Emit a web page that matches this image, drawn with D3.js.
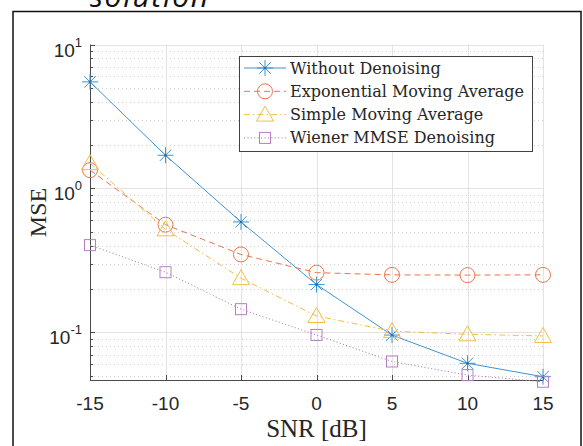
<!DOCTYPE html>
<html lang="en">
<head>
<meta charset="UTF-8"/>
<title>MSE vs SNR</title>
<script src="https://d3js.org/d3.v7.min.js" charset="utf-8"></script>
<style type="text/css">
    body { margin: 0; background: #fff; }
    .tick-label { font-family: "Liberation Sans", Arial, sans-serif; fill: #262626; }
    .serif { font-family: "Liberation Serif", "Times New Roman", serif; fill: #262626; }
    .legend text { font-family: "DejaVu Serif", serif; font-size: 16px; fill: #262626; }
</style>
</head>
<body>
<div id="chart"></div>
<script type="text/javascript">
    // data
    var snr = [-15, -10, -5, 0, 5, 10, 15];
    var xTicks = [-15, -10, -5, 0, 5, 10, 15];
    var yTicks = [0.1, 1, 10];
    var yTickExp = ["-1", "0", "1"];
    var withoutDenoising = [5.5, 1.7, 0.585, 0.215, 0.0958, 0.061, 0.0492];
    var expMovingAvg = [1.34, 0.56, 0.348, 0.26, 0.251, 0.25, 0.251];
    var simpleMovingAvg = [1.5, 0.52, 0.238, 0.13, 0.102, 0.097, 0.0945];
    var wienerMMSE = [0.404, 0.262, 0.145, 0.096, 0.0628, 0.0505, 0.0454];
    var seriesNames = ["Without Denoising", "Exponential Moving Average", "Simple Moving Average", "Wiener MMSE Denoising"];

    var series = [
        {name: seriesNames[0], values: withoutDenoising, color: "#3f93d3", dash: null, marker: "star"},
        {name: seriesNames[1], values: expMovingAvg, color: "#e8764e", dash: "6,4", marker: "circle"},
        {name: seriesNames[2], values: simpleMovingAvg, color: "#f2be45", dash: "6,3,1.5,3", marker: "triangle"},
        {name: seriesNames[3], values: wienerMMSE, color: "#b480c2", dash: "1.2,2.2", marker: "square"}
    ];

    var W = 583, H = 446;
    var svg = d3.select("#chart").append("svg")
        .attr("width", W).attr("height", H);

    // outer frame + clipped title from the slide
    svg.append("rect")
        .attr("x", 13).attr("y", 11.5).attr("width", 568).attr("height", 450)
        .attr("fill", "none").attr("stroke", "#111").attr("stroke-width", 1.5);
    svg.append("text")
        .attr("x", 90).attr("y", 7)
        .attr("font-family", "'Open Sans', sans-serif")
        .attr("font-style", "italic")
        .attr("font-size", 30)
        .attr("textLength", 118)
        .attr("fill", "#111")
        .text("solution");

    var x = d3.scaleLinear().domain([-15, 15]).range([90, 543]);
    var y = d3.scaleLog().domain([0.0467, 10]).range([380, 44.5]);

    var grid = svg.append("g");
    // minor y grid (dotted)
    var minor = [];
    [0.01, 0.1, 1].forEach(function (d) {
        for (var k = 2; k <= 9; k++) {
            var v = d * k;
            if (v >= y.domain()[0] && v <= 10) minor.push(v);
        }
    });
    grid.selectAll(".minor").data(minor).enter().append("line")
        .attr("x1", 90).attr("x2", 543)
        .attr("y1", function (d) { return Math.round(y(d)) + 0.5; })
        .attr("y2", function (d) { return Math.round(y(d)) + 0.5; })
        .attr("stroke", "#cfcfcf").attr("stroke-dasharray", "1,3");
    grid.selectAll(".majorY").data(yTicks).enter().append("line")
        .attr("x1", 90).attr("x2", 543)
        .attr("y1", function (d) { return Math.round(y(d)) + 0.5; })
        .attr("y2", function (d) { return Math.round(y(d)) + 0.5; })
        .attr("stroke", "#e3e3e3");
    grid.selectAll(".majorX").data(xTicks).enter().append("line")
        .attr("y1", 44.5).attr("y2", 380)
        .attr("x1", function (d) { return Math.round(x(d)) + 0.5; })
        .attr("x2", function (d) { return Math.round(x(d)) + 0.5; })
        .attr("stroke", "#e3e3e3");

    // axes lines and ticks
    var ax = svg.append("g").attr("stroke", "#4a4a4a");
    ax.append("line").attr("x1", 90.5).attr("x2", 90.5).attr("y1", 44.5).attr("y2", 380.5);
    ax.append("line").attr("x1", 90).attr("x2", 543.5).attr("y1", 380.5).attr("y2", 380.5);
    ax.selectAll(".xt").data(xTicks).enter().append("line")
        .attr("x1", function (d) { return Math.round(x(d)) + 0.5; })
        .attr("x2", function (d) { return Math.round(x(d)) + 0.5; })
        .attr("y1", 380).attr("y2", 375);
    ax.selectAll(".yt").data(yTicks).enter().append("line")
        .attr("y1", function (d) { return Math.round(y(d)) + 0.5; })
        .attr("y2", function (d) { return Math.round(y(d)) + 0.5; })
        .attr("x1", 90).attr("x2", 95);
    ax.selectAll(".ymt").data(minor).enter().append("line")
        .attr("y1", function (d) { return Math.round(y(d)) + 0.5; })
        .attr("y2", function (d) { return Math.round(y(d)) + 0.5; })
        .attr("x1", 90).attr("x2", 93);

    // tick labels
    svg.selectAll(".xl").data(xTicks).enter().append("text")
        .attr("class", "tick-label")
        .attr("x", function (d) { return x(d); })
        .attr("y", 410)
        .attr("text-anchor", "middle")
        .attr("font-size", 19)
        .text(function (d) { return d; });
    var yl = svg.selectAll(".yl").data(yTicks).enter().append("text")
        .attr("class", "tick-label")
        .attr("x", 82)
        .attr("y", function (d) { return y(d) + 12; })
        .attr("text-anchor", "end")
        .attr("font-size", 19);
    yl.append("tspan").text("10");
    yl.append("tspan").attr("dy", -10).attr("font-size", 13)
        .text(function (d, i) { return yTickExp[i]; });

    // axis titles
    svg.append("text").attr("class", "serif")
        .attr("x", 316.5).attr("y", 437)
        .attr("text-anchor", "middle").attr("font-size", 25)
        .text("SNR [dB]");
    svg.append("text").attr("class", "serif")
        .attr("transform", "translate(46,212.5) rotate(-90)")
        .attr("text-anchor", "middle").attr("font-size", 24)
        .text("MSE");

    function drawMarker(g, type, color) {
        if (type === "star") {
            g.append("path")
                .attr("d", "M-8,0H8M0,-8V8M-5.7,-5.7L5.7,5.7M-5.7,5.7L5.7,-5.7")
                .attr("stroke", color).attr("fill", "none").attr("stroke-width", 1);
            g.append("circle").attr("r", 1.3).attr("fill", d3.color(color).darker(0.8));
        } else if (type === "circle") {
            g.append("circle").attr("r", 7.5)
                .attr("stroke", color).attr("fill", "none").attr("stroke-width", 1);
        } else if (type === "triangle") {
            g.append("path").attr("d", "M0,-8.5L8.5,6.5L-8.5,6.5Z")
                .attr("stroke", color).attr("fill", "none").attr("stroke-width", 1);
        } else {
            g.append("rect").attr("x", -5.5).attr("y", -5.5).attr("width", 11).attr("height", 11)
                .attr("stroke", color).attr("fill", "none").attr("stroke-width", 1);
        }
    }

    var line = d3.line()
        .x(function (d, i) { return x(snr[i]); })
        .y(function (d) { return y(d); });

    series.forEach(function (s) {
        svg.append("path")
            .datum(s.values)
            .attr("d", line)
            .attr("fill", "none")
            .attr("stroke", s.color)
            .attr("stroke-width", 1)
            .attr("stroke-dasharray", s.dash);
        s.values.forEach(function (v, i) {
            var g = svg.append("g").attr("transform", "translate(" + x(snr[i]) + "," + y(v) + ")");
            drawMarker(g, s.marker, s.color);
        });
    });

    // legend
    var legend = svg.append("g").attr("class", "legend");
    legend.append("rect")
        .attr("x", 239.5).attr("y", 56.5).attr("width", 293).attr("height", 95)
        .attr("fill", "#fff").attr("stroke", "#404040").attr("stroke-width", 1);
    series.forEach(function (s, i) {
        var ly = 68 + i * 23.3;
        var g = legend.append("g");
        g.append("line").attr("x1", 244).attr("x2", 286).attr("y1", ly).attr("y2", ly)
            .attr("stroke", s.color).attr("stroke-width", 1).attr("stroke-dasharray", s.dash);
        drawMarker(g.append("g").attr("transform", "translate(265," + ly + ")"), s.marker, s.color);
        g.append("text").attr("x", 290).attr("y", ly + 5.5).text(s.name);
    });
</script>
</body>
</html>
